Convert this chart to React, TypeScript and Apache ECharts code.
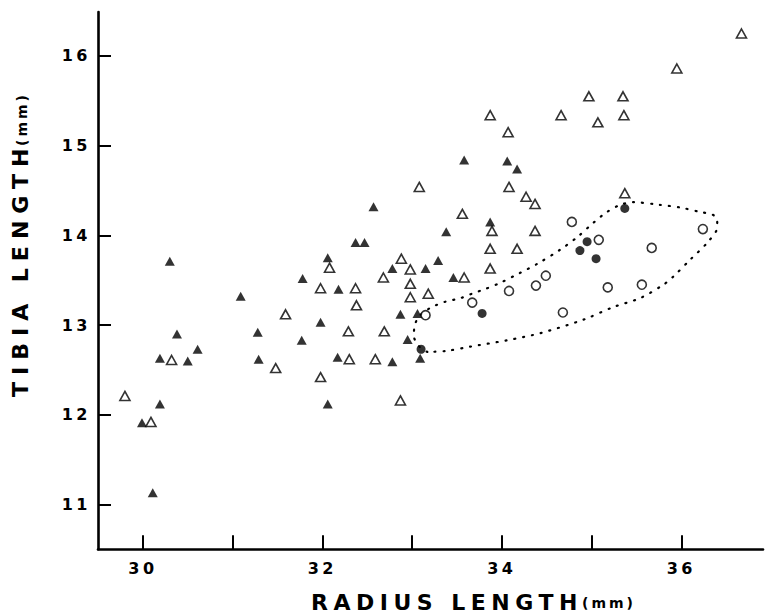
import React, { useEffect, useRef } from "react";
import * as echarts from "echarts";

const xTickValues = [30, 31, 32, 33, 34, 35, 36];
const xLabelValues = [30, 32, 34, 36];
const yTickValues = [11, 12, 13, 14, 15, 16];

const xTitle = "RADIUS LENGTH";
const yTitle = "TIBIA LENGTH";
const unitText = "(mm)";

const filledTriangles: [number, number][] = [
  [30.3, 13.71], [31.09, 13.32], [30.38, 12.9], [30.61, 12.73], [30.19, 12.63],
  [30.5, 12.6], [31.28, 12.92], [31.29, 12.62], [30.19, 12.12], [29.99, 11.91],
  [30.11, 11.13], [31.77, 12.83], [31.98, 13.03], [32.17, 12.64], [32.78, 12.59],
  [32.06, 12.12], [32.57, 14.32], [32.37, 13.92], [32.47, 13.92], [33.38, 14.04],
  [32.06, 13.75], [31.78, 13.52], [32.18, 13.4], [32.78, 13.63], [33.15, 13.63],
  [33.29, 13.72], [33.46, 13.53], [32.87, 13.12], [33.06, 13.13], [32.95, 12.84],
  [33.09, 12.63], [33.58, 14.84], [34.06, 14.83], [34.17, 14.74], [33.87, 14.15],
];

const openTriangles: [number, number][] = [
  [31.59, 13.12], [30.32, 12.61], [31.48, 12.52], [29.8, 12.21], [30.09, 11.92],
  [32.38, 13.22], [32.29, 12.93], [32.69, 12.93], [32.3, 12.62], [32.59, 12.62],
  [31.98, 12.42], [33.08, 14.54], [32.08, 13.64], [31.98, 13.41], [32.37, 13.41],
  [32.88, 13.74], [32.98, 13.62], [32.68, 13.53], [32.98, 13.46], [32.98, 13.31],
  [33.18, 13.35], [32.87, 12.16], [33.87, 15.34], [34.66, 15.34], [35.07, 15.26],
  [34.07, 15.15], [34.08, 14.54], [34.27, 14.43], [34.37, 14.35], [33.56, 14.24],
  [33.89, 14.05], [34.37, 14.05], [33.87, 13.85], [34.17, 13.85], [33.87, 13.63],
  [33.58, 13.53], [36.67, 16.25], [35.95, 15.86], [34.97, 15.55], [35.35, 15.55],
  [35.36, 15.34], [35.37, 14.47],
];

const openCircles: [number, number][] = [
  [33.15, 13.11], [34.78, 14.15], [35.08, 13.95], [34.49, 13.55], [34.38, 13.44],
  [34.08, 13.38], [35.18, 13.42], [33.67, 13.25], [34.68, 13.14], [36.24, 14.07],
  [35.67, 13.86], [35.56, 13.45],
];

const filledCircles: [number, number][] = [
  [33.1, 12.73], [34.95, 13.93], [34.87, 13.83], [35.05, 13.74], [33.78, 13.13],
  [35.37, 14.3],
];

const enclosure: [number, number][] = [
  [33.17, 12.7], [33.07, 12.77], [33.02, 12.88], [33.03, 13.0], [33.08, 13.1],
  [33.2, 13.19], [33.37, 13.26], [33.54, 13.3], [33.67, 13.35], [33.81, 13.4],
  [33.98, 13.47], [34.2, 13.58], [34.39, 13.68], [34.65, 13.84], [34.84, 13.98],
  [35.02, 14.14], [35.17, 14.26], [35.32, 14.34], [35.46, 14.37], [35.76, 14.34],
  [35.99, 14.31], [36.21, 14.26], [36.35, 14.23], [36.4, 14.17], [36.4, 14.09],
  [36.29, 13.92], [36.1, 13.73], [35.91, 13.54], [35.8, 13.45], [35.54, 13.3],
  [35.24, 13.2], [34.91, 13.06], [34.43, 12.91], [34.06, 12.83], [33.65, 12.76],
  [33.37, 12.71], [33.17, 12.7],
];

const FONT = '"DejaVu Sans", "Liberation Sans", Arial, sans-serif';

export default function App() {
  const ref = useRef<HTMLDivElement>(null);

  useEffect(() => {
    document.body.style.margin = "0";
    const el = ref.current!;
    const chart = echarts.init(el, null, { renderer: "svg" });

    const openStyle = { color: "#fff", borderColor: "#000", borderWidth: 1.6 };
    const fillStyle = { color: "#000" };

    const option = {
      animation: false,
      backgroundColor: "#fff",
      grid: { left: 98, right: 2, top: 12, bottom: 64.7, containLabel: false },
      xAxis: {
        type: "value",
        min: 29.5,
        max: 36.91,
        axisLine: { show: true, onZero: false, lineStyle: { color: "#000", width: 2.6 } },
        axisTick: {
          show: true,
          inside: true,
          length: 14,
          customValues: xTickValues,
          lineStyle: { color: "#000", width: 2 },
        },
        axisLabel: {
          show: true,
          customValues: xLabelValues,
          margin: 11,
          color: "#000",
          fontFamily: FONT,
          fontWeight: "bold",
          fontSize: 16,
        },
        splitLine: { show: false },
      },
      yAxis: {
        type: "value",
        min: 10.5,
        max: 16.49,
        axisLine: { show: true, onZero: false, lineStyle: { color: "#000", width: 2.6 } },
        axisTick: {
          show: true,
          inside: true,
          length: 13,
          customValues: yTickValues,
          lineStyle: { color: "#000", width: 2 },
        },
        axisLabel: {
          show: true,
          customValues: yTickValues,
          margin: 7,
          color: "#000",
          fontFamily: FONT,
          fontWeight: "bold",
          fontSize: 16,
        },
        splitLine: { show: false },
      },
      graphic: [
        {
          type: "text",
          x: 311,
          y: 602,
          silent: true,
          style: {
            text: xTitle,
            font: `bold 22px ${FONT}`,
            fill: "#000",
            textAlign: "left",
            textVerticalAlign: "middle",
          },
        },
        {
          type: "text",
          x: 582,
          y: 603,
          silent: true,
          style: {
            text: unitText,
            font: `bold 14px ${FONT}`,
            fill: "#000",
            textAlign: "left",
            textVerticalAlign: "middle",
          },
        },
        {
          type: "text",
          x: 20.5,
          y: 397,
          rotation: Math.PI / 2,
          silent: true,
          style: {
            text: yTitle,
            font: `bold 22px ${FONT}`,
            fill: "#000",
            textAlign: "left",
            textVerticalAlign: "middle",
          },
        },
        {
          type: "text",
          x: 22,
          y: 146,
          rotation: Math.PI / 2,
          silent: true,
          style: {
            text: unitText,
            font: `bold 14px ${FONT}`,
            fill: "#000",
            textAlign: "left",
            textVerticalAlign: "middle",
          },
        },
      ],
      series: [
        {
          name: "enclosure",
          type: "line",
          data: enclosure,
          smooth: 0.3,
          symbol: "none",
          silent: true,
          z: 1,
          lineStyle: { color: "#000", width: 2.2, type: [1, 8], cap: "round" },
        },
        {
          name: "filled triangles",
          type: "scatter",
          data: filledTriangles,
          symbol: "triangle",
          symbolSize: [10, 9],
          itemStyle: fillStyle,
          silent: true,
          z: 3,
        },
        {
          name: "open triangles",
          type: "scatter",
          data: openTriangles,
          symbol: "triangle",
          symbolSize: [10, 9],
          itemStyle: openStyle,
          silent: true,
          z: 3,
        },
        {
          name: "open circles",
          type: "scatter",
          data: openCircles,
          symbol: "circle",
          symbolSize: 9,
          itemStyle: openStyle,
          silent: true,
          z: 3,
        },
        {
          name: "filled circles",
          type: "scatter",
          data: filledCircles,
          symbol: "circle",
          symbolSize: 9,
          itemStyle: fillStyle,
          silent: true,
          z: 3,
        },
      ],
    };

    chart.setOption(option as any);

    const applySpacing = () => {
      const texts = el.querySelectorAll("text");
      texts.forEach((t) => {
        const s = (t.textContent || "").trim();
        if (s === yTitle) t.setAttribute("letter-spacing", "7");
        else if (s === xTitle) t.setAttribute("letter-spacing", "5.5");
        else if (s === unitText) t.setAttribute("letter-spacing", "3");
        else if (/^\d+$/.test(s)) t.setAttribute("letter-spacing", "3.5");
      });
    };
    chart.on("finished", applySpacing);
    applySpacing();
    const timers = [setTimeout(applySpacing, 30), setTimeout(applySpacing, 200)];

    return () => {
      timers.forEach((id) => clearTimeout(id));
      chart.dispose();
    };
  }, []);

  return <div ref={ref} style={{ width: 765, height: 614 }} />;
}
